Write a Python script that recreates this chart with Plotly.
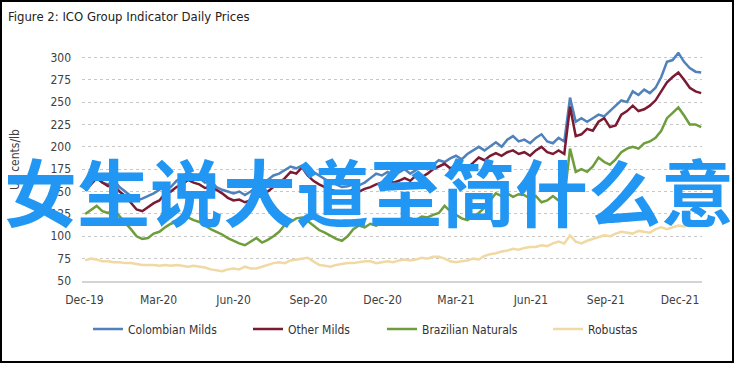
import pandas as pd
import plotly.graph_objects as go

title_text = "Figure 2: ICO Group Indicator Daily Prices"
y_title = "US cents/lb"
overlay_text = "女生说大道至简什么意"
series_names = ["Colombian Milds", "Other Milds", "Brazilian Naturals", "Robustas"]
series_colors = ["#4F81BD", "#7A1A33", "#6E9D3B", "#F0D9A3"]
start_date = "2019-12-02"
n_weeks = 109

colombian_milds = [
    158, 162, 165, 160, 158, 163, 155, 150, 146, 140,
    142, 145, 148, 152, 158, 155, 162, 166, 172, 168,
    165, 160, 162, 155, 152, 150, 148, 150, 146, 150,
    155, 160, 163, 168, 170, 174, 178, 176, 179, 175,
    172, 168, 164, 160, 158, 155, 156, 158, 157, 160,
    165, 170, 168, 172, 168, 172, 175, 170, 174, 178,
    175, 180, 185, 183, 187, 190, 186, 192, 196, 200,
    196, 200, 205, 200, 208, 212, 206, 208, 204, 210,
    214, 206, 204, 210, 206, 255, 228, 232, 228, 232,
    236, 234, 240, 245, 252, 250, 262, 258, 264, 260,
    266, 278, 295, 297, 305, 295, 288, 284, 283,
]
other_milds = [
    151, 158, 165, 160, 156, 158, 150, 145, 138, 130,
    128, 133, 137, 140, 148, 150, 155, 158, 163, 160,
    158, 154, 155, 152, 148, 143, 140, 141, 138, 140,
    143, 146, 150, 155, 160, 165, 172, 170, 177, 168,
    162, 158, 155, 152, 150, 148, 150, 152, 150, 153,
    155, 158, 160, 163, 160, 162, 165, 162, 168, 166,
    170, 175, 178, 181, 176, 178, 175, 177, 182, 188,
    185, 190, 193, 190, 194, 196, 192, 194, 190, 196,
    200, 194, 192, 196, 192, 245, 212, 214, 220, 218,
    228, 232, 222, 224, 236, 240, 246, 240, 242, 246,
    252, 262, 272, 278, 283, 275, 266, 262, 260,
]
brazilian_naturals = [
    125, 130, 134, 128, 126, 130, 122, 115, 108, 100,
    97, 98, 103, 105, 110, 114, 116, 118, 121, 118,
    116, 112, 108, 105, 102, 98, 95, 92, 90, 94,
    98, 93, 96, 100, 105, 113, 116, 120, 121, 117,
    112, 107, 104, 100, 97, 95, 100, 108, 112, 110,
    114, 112, 115, 118, 116, 119, 118, 120, 118, 122,
    121, 124, 126, 134, 128, 124, 120, 118, 122, 126,
    132, 140, 148, 145, 148, 144, 147, 146, 142, 145,
    138, 140, 145, 140, 142, 198, 172, 175, 172, 178,
    188, 183, 180, 186, 194, 198, 200, 198, 204, 206,
    210, 218, 232, 238, 244, 235, 225, 225, 222,
]
robustas = [
    73, 75, 74, 72, 72, 71, 71, 70, 70, 69,
    68, 68, 68, 67, 68, 67, 68, 67, 66, 67,
    66, 65, 63, 62, 61, 63, 64, 63, 66, 64,
    64, 66, 68, 70, 71, 70, 73, 74, 75, 76,
    72, 68, 67, 66, 68, 69, 70, 70, 71, 72,
    72, 70, 71, 72, 71, 73, 74, 73, 74, 76,
    75, 77, 77, 75, 72, 71, 72, 73, 75, 74,
    78, 80, 81, 83, 84, 86, 85, 87, 88, 88,
    90, 89, 92, 94, 92, 101, 94, 92, 95, 97,
    99, 101, 100, 103, 105, 104, 103, 106, 105, 104,
    108, 110, 108, 110, 112, 111, 112, 113, 113,
]
tick_dates = ["2019-12-01", "2020-03-01", "2020-06-01", "2020-09-01", "2020-12-01",
              "2021-03-01", "2021-06-01", "2021-09-01", "2021-12-01"]
tick_labels = ["Dec-19", "Mar-20", "Jun-20", "Sep-20", "Dec-20",
               "Mar-21", "Jun-21", "Sep-21", "Dec-21"]
y_ticks = [50, 75, 100, 125, 150, 175, 200, 225, 250, 275, 300]

dates = pd.date_range(start_date, periods=n_weeks, freq="7D")
all_series = [colombian_milds, other_milds, brazilian_naturals, robustas]

FONT = "DejaVu Sans Condensed, Liberation Sans Narrow, sans-serif"
W, H = 736, 365
L, R, T, B = 82, 34, 52, 84
PW, PH = W - L - R, H - T - B


def px_x(px):
    return (px - L) / PW


def px_y(py):
    return (H - B - py) / PH


fig = go.Figure()
legend_ids = ["legend", "legend2", "legend3", "legend4"]
for name, vals, col, lg in zip(series_names, all_series, series_colors, legend_ids):
    fig.add_trace(go.Scatter(x=dates, y=vals, mode="lines", name=name,
                             line=dict(color=col, width=2.5), legend=lg))

legend_lefts = [88, 248, 382, 548]
leg_common = dict(orientation="h", yanchor="middle", xanchor="left",
                  font=dict(family=FONT, size=12, color="#333333"),
                  bgcolor="rgba(0,0,0,0)", borderwidth=0)
legend_layout = {}
for lg, lx in zip(legend_ids, legend_lefts):
    legend_layout[lg] = dict(x=px_x(lx), y=px_y(329), **leg_common)

fig.update_layout(
    width=W, height=H,
    margin=dict(l=L, r=R, t=T, b=B),
    paper_bgcolor="white", plot_bgcolor="white",
    showlegend=True,
    title=dict(text=title_text, x=8 / W, xref="container", xanchor="left",
               y=1 - 16 / H, yref="container", yanchor="middle",
               font=dict(family=FONT, size=13, color="#222222")),
    xaxis=dict(range=["2019-11-28", "2021-12-28"], tickvals=tick_dates, ticktext=tick_labels,
               showgrid=False, showline=True, linecolor="#d4d4d4", linewidth=1.5,
               ticks="", ticklabelstandoff=7,
               tickfont=dict(family=FONT, size=12, color="#404040"), zeroline=False),
    yaxis=dict(range=[50, 306], tickvals=y_ticks, showgrid=True, gridcolor="#c8c8c8",
               griddash="dot", gridwidth=1, zeroline=False, ticks="", ticklabelstandoff=10,
               tickfont=dict(family=FONT, size=12, color="#404040")),
    **legend_layout,
)

fig.add_annotation(text=y_title, xref="paper", yref="paper", x=px_x(15), y=px_y(160),
                   xanchor="center", yanchor="middle",
                   textangle=-90, showarrow=False,
                   font=dict(family=FONT, size=12, color="#404040"))

fig.add_annotation(text=overlay_text, xref="paper", yref="paper", x=px_x(369), y=px_y(189),
                   showarrow=False, xanchor="center", yanchor="middle",
                   font=dict(family="Noto Sans CJK SC", size=73, color="#2196F3", weight="bold"))

fig.add_shape(type="rect", xref="paper", yref="paper",
              x0=px_x(1), x1=px_x(733), y0=px_y(362), y1=px_y(1),
              line=dict(color="black", width=2), fillcolor="rgba(0,0,0,0)", layer="above")

fig.write_html("out.html", config={"displayModeBar": False},
               post_script="document.body.style.margin='0px';")
